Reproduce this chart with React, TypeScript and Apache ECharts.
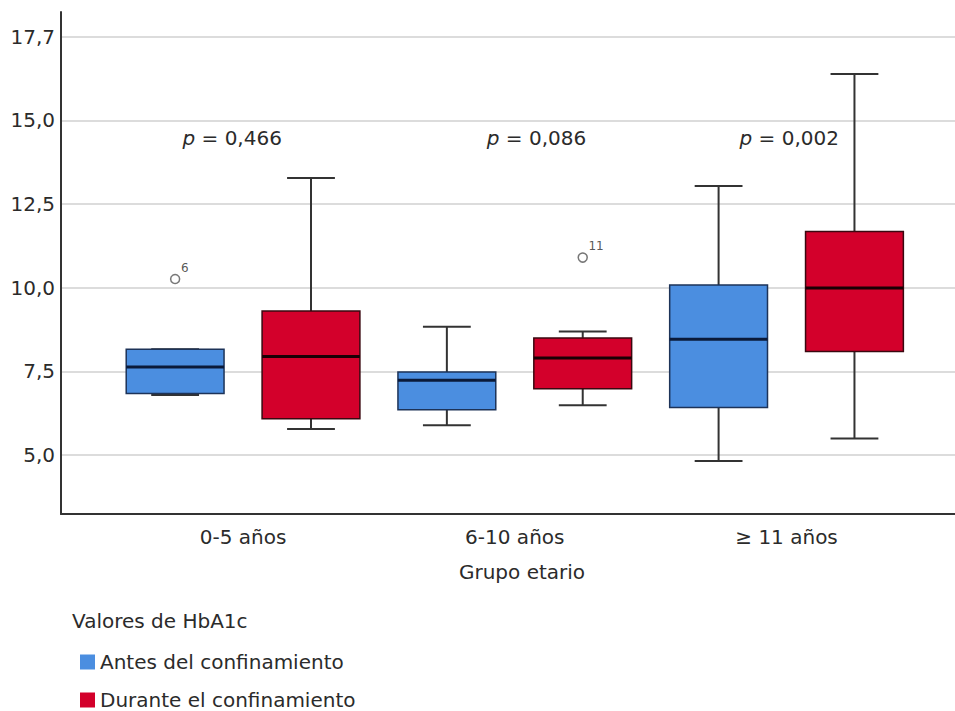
import { useEffect, useRef } from "react";
import * as echarts from "echarts";

// ---------- data ----------
const categories = ["0-5 años", "6-10 años", "≥ 11 años"];
const yTickValues = [5, 7.5, 10, 12.5, 15, 17.5];
const yTickLabels = ["5,0", "7,5", "10,0", "12,5", "15,0", "17,7"];
const seriesNames = ["Antes del confinamiento", "Durante el confinamiento"];
// [min, q1, median, q3, max] per age group
const antes = [
  [6.79, 6.84, 7.63, 8.16, 8.16],
  [5.89, 6.35, 7.23, 7.48, 8.83],
  [4.82, 6.42, 8.46, 10.08, 13.04],
];
const durante = [
  [5.78, 6.08, 7.94, 9.3, 13.28],
  [6.49, 6.98, 7.9, 8.5, 8.69],
  [5.49, 8.09, 9.99, 11.68, 16.39],
];
const antesOutliers = [{ group: 0, value: 10.26, id: "6" }];
const duranteOutliers = [{ group: 1, value: 10.9, id: "11" }];
const pValues = ["0,466", "0,086", "0,002"];
const pValueLevel = 14.48;

// ---------- layout / style constants ----------
const X_MIN = 0.33;
const X_MAX = 3.62;
const OFFSET = 0.25;
const BOX_HALF = 0.18;
const CAP_HALF = 0.088;
const P_SHIFT = [-0.04, 0.08, 0.01];
const FONT = "DejaVu Sans";
const BLUE = "#4b8ee0";
const RED = "#d3002b";
const TEXT = "#2b2b2b";

function boxSeries(name: string, data: number[][], offset: number, fill: string, border: string, median: string) {
  return {
    type: "custom",
    name,
    itemStyle: { color: fill },
    data: data.map((d, i) => [i + 1, ...d]),
    encode: { x: 0, y: [1, 2, 3, 4, 5] },
    renderItem: (_params: any, api: any) => {
      const x = api.value(0) + offset;
      const pMin = api.coord([x, api.value(1)]);
      const pQ1 = api.coord([x, api.value(2)]);
      const pMed = api.coord([x, api.value(3)]);
      const pQ3 = api.coord([x, api.value(4)]);
      const pMax = api.coord([x, api.value(5)]);
      const halfW = api.size([BOX_HALF, 0])[0];
      const capW = api.size([CAP_HALF, 0])[0];
      const cx = pMed[0];
      const ls = { stroke: "#333", lineWidth: 2 };
      return {
        type: "group",
        children: [
          { type: "line", shape: { x1: cx, y1: pMax[1], x2: cx, y2: pQ3[1] }, style: ls },
          { type: "line", shape: { x1: cx, y1: pQ1[1], x2: cx, y2: pMin[1] }, style: ls },
          { type: "line", shape: { x1: cx - capW, y1: pMax[1], x2: cx + capW, y2: pMax[1] }, style: ls },
          { type: "line", shape: { x1: cx - capW, y1: pMin[1], x2: cx + capW, y2: pMin[1] }, style: ls },
          {
            type: "rect",
            shape: { x: cx - halfW, y: pQ3[1], width: 2 * halfW, height: pQ1[1] - pQ3[1] },
            style: { fill, stroke: border, lineWidth: 1.5 },
          },
          {
            type: "line",
            shape: { x1: cx - halfW, y1: pMed[1], x2: cx + halfW, y2: pMed[1] },
            style: { stroke: median, lineWidth: 3 },
          },
        ],
      };
    },
  };
}

function outlierSeries(list: { group: number; value: number; id: string }[], offset: number) {
  return {
    type: "scatter",
    name: "outliers" + offset,
    symbol: "circle",
    symbolSize: 9,
    itemStyle: { color: "#fff", borderColor: "#555", borderWidth: 1.5 },
    label: {
      show: true,
      formatter: (p: any) => p.data.id,
      position: [11, -12],
      fontSize: 12,
      color: TEXT,
      fontFamily: FONT,
    },
    data: list.map((o) => ({ value: [o.group + 1 + offset, o.value], id: o.id })),
  };
}

function legendFor(name: string, top: number) {
  return {
    data: [name],
    orient: "vertical",
    left: 80,
    top,
    padding: 0,
    icon: "rect",
    itemWidth: 15,
    itemHeight: 15,
    textStyle: { fontSize: 20, color: TEXT, fontFamily: FONT },
  };
}

export default function App() {
  const ref = useRef<HTMLDivElement>(null);
  useEffect(() => {
    if (!ref.current) return;
    const chart = echarts.init(ref.current, null, { renderer: "svg" });
    const findLabel = (v: number) => {
      const i = yTickValues.findIndex((t) => Math.abs(t - v) < 1e-6);
      return i >= 0 ? yTickLabels[i] : "";
    };
    chart.setOption({
      animation: false,
      textStyle: { fontFamily: FONT },
      grid: { left: 61, right: 0, top: 12, bottom: 197 },
      title: {
        text: "Valores de HbA1c",
        left: 67,
        top: 606,
        textStyle: { fontSize: 20, fontWeight: "normal", color: TEXT, fontFamily: FONT },
      },
      legend: [legendFor(seriesNames[0], 652), legendFor(seriesNames[1], 690)],
      xAxis: {
        type: "value",
        min: X_MIN,
        max: X_MAX,
        name: "Grupo etario",
        nameLocation: "middle",
        nameGap: 48,
        nameTextStyle: { fontSize: 20, color: TEXT, padding: [0, 0, 0, 28] },
        axisLine: { show: true, lineStyle: { color: "#333", width: 2 } },
        axisTick: { show: false, customValues: [1, 2, 3] },
        splitLine: { show: false },
        axisLabel: {
          customValues: [1, 2, 3],
          formatter: (v: number) => categories[Math.round(v) - 1] ?? "",
          fontSize: 20,
          color: TEXT,
          margin: 13,
        },
      },
      yAxis: {
        type: "value",
        min: 3.236,
        max: 18.24,
        axisLine: { show: true, lineStyle: { color: "#333", width: 2 } },
        axisTick: { show: false, customValues: yTickValues },
        splitLine: { show: true, lineStyle: { color: "#dcdcdc", width: 2 } },
        axisLabel: {
          customValues: yTickValues,
          formatter: (v: number) => findLabel(v),
          fontSize: 20,
          color: TEXT,
          margin: 6,
        },
      },
      series: [
        boxSeries(seriesNames[0], antes, -OFFSET, BLUE, "#1d3358", "#0a1a3a"),
        boxSeries(seriesNames[1], durante, OFFSET, RED, "#3a0810", "#1a0005"),
        outlierSeries(antesOutliers, -OFFSET),
        outlierSeries(duranteOutliers, OFFSET),
        {
          type: "scatter",
          name: "pvalues",
          symbolSize: 1,
          itemStyle: { color: "#fff", opacity: 1 },
          label: {
            show: true,
            position: "inside",
            formatter: (p: any) => `{i|p} = ${p.data.text}`,
            fontSize: 20,
            color: TEXT,
            opacity: 1,
            textBorderWidth: 0,
            fontFamily: FONT,
            rich: { i: { fontStyle: "italic", fontSize: 20, color: TEXT, fontFamily: FONT, textBorderWidth: 0 } },
          },
          data: pValues.map((t, i) => ({ value: [i + 1 + P_SHIFT[i], pValueLevel], text: t })),
        },
      ],
    });
    return () => chart.dispose();
  }, []);
  return (
    <div
      ref={ref}
      style={{ position: "absolute", left: 0, top: 0, width: 955, height: 711, background: "#fff" }}
    />
  );
}
